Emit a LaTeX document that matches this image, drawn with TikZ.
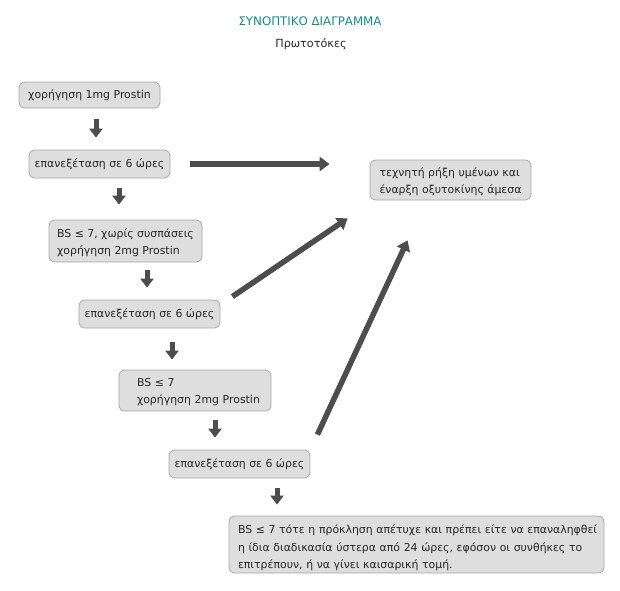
\documentclass[tikz,border=0pt]{standalone}
\usepackage{fontspec}
\setmainfont{DejaVu Sans}
\usetikzlibrary{arrows.meta}
\definecolor{boxfill}{HTML}{DEDEDE}
\definecolor{boxdraw}{HTML}{A8A8A8}
\definecolor{arr}{HTML}{4D4D4D}
\definecolor{teal}{HTML}{138C8C}
\definecolor{txt}{HTML}{262626}
\newcommand{\downpush}[1]{\rule{0pt}{#1}}
\tikzset{
  box/.style={draw=boxdraw, fill=boxfill, rounded corners=6pt, line width=0.8pt,
    font=\fontsize{10.9}{17.5}\selectfont, inner sep=0pt, text=txt},
  dn/.style={draw=arr, line width=5pt, -{Triangle[length=9pt,width=13pt]}},
  lng/.style={draw=arr, line width=5.5pt, -{Triangle[length=10pt,width=14pt]}},
}
\begin{document}
\begin{tikzpicture}[x=1pt,y=-1pt]
\useasboundingbox (0,0) rectangle (620,590);
\node[font=\fontsize{11.8}{14}\selectfont, text=teal] (title) at (310,21) {ΣΥΝΟΠΤΙΚΟ ΔΙΑΓΡΑΜΜΑ};
\node[font=\fontsize{11.2}{14}\selectfont, text=txt] (sub) at (311,44) {Πρωτοτόκες};

\node[box, minimum width=141pt, minimum height=26pt] (n1) at (89.5,95) {χορήγηση 1mg Prostin};
\node[box, minimum width=141pt, minimum height=28pt] (n2) at (99.5,164) {επανεξέταση σε 6 ώρες};
\node[box, minimum width=161pt, minimum height=40pt, align=left] (n3) at (450.5,180) {\downpush{12pt}τεχνητή ρήξη υμένων και\\έναρξη οξυτοκίνης άμεσα};
\node[box, minimum width=153pt, minimum height=42pt, align=left] (n4) at (125.5,241) {\downpush{12pt}BS ≤ 7, χωρίς συσπάσεις\\χορήγηση 2mg Prostin};
\node[box, minimum width=141pt, minimum height=28pt] (n5) at (149.5,314) {επανεξέταση σε 6 ώρες};
\node[box, minimum width=152pt, minimum height=41pt, align=left, text width=134pt] (n6) at (195,390.5) {\downpush{11pt}\hspace*{9pt}BS ≤ 7\\\hspace*{9pt}χορήγηση 2mg Prostin};
\node[box, minimum width=141pt, minimum height=28pt] (n7) at (239.5,464) {επανεξέταση σε 6 ώρες};
\node[box, minimum width=375pt, minimum height=57pt, align=left, text width=357pt] (n8) at (416.5,544.5) {\downpush{16pt}\mbox{BS ≤ 7 τότε η πρόκληση απέτυχε και πρέπει είτε να επαναληφθεί}\\\mbox{η ίδια διαδικασία ύστερα από 24 ώρες, εφόσον οι συνθήκες το}\\επιτρέπουν, ή να γίνει καισαρική τομή.};

\draw[dn, shorten <=11pt, shorten >=12pt] (n1.south -| 96,0) -- (n2.north -| 96,0);
\draw[dn, shorten <=10pt, shorten >=15pt] (n2.south -| 119,0) -- (n4.north -| 119,0);
\draw[dn, shorten <=8pt, shorten >=12pt] (n4.south -| 147,0) -- (n5.north -| 147,0);
\draw[dn, shorten <=14pt, shorten >=10pt] (n5.south -| 172,0) -- (n6.north -| 172,0);
\draw[dn, shorten <=9pt, shorten >=12pt] (n6.south -| 215,0) -- (n7.north -| 215,0);
\draw[dn, shorten <=10pt, shorten >=11pt] (n7.south -| 277,0) -- (n8.north -| 277,0);

\draw[lng, shorten <=20pt, shorten >=40pt] (n2.east) -- (n3.west |- n2.east);
\draw[lng] ([shift={(12,-3)}]n5.north east) -- ([shift={(-22,18)}]n3.south west);
\draw[lng] ([shift={(7,-15)}]n7.north east) -- ([shift={(38,40)}]n3.south west);
\end{tikzpicture}
\end{document}
